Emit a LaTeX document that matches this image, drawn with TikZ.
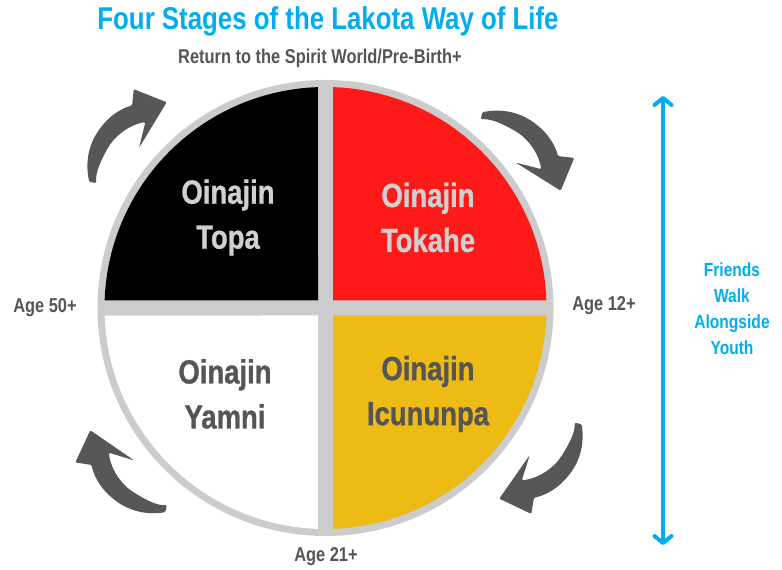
\documentclass[tikz,border=0pt]{standalone}
\usepackage{fontspec}
\setmainfont{Liberation Sans}
\newfontfamily\cond{Liberation Sans}[FakeStretch=0.82]
\newfontfamily\condheavy{Liberation Sans}[FakeStretch=0.82, BoldFeatures={FakeBold=0.8}]
\usetikzlibrary{arrows.meta,calc}
\definecolor{lblue}{HTML}{00AEEF}
\definecolor{ringgray}{HTML}{CCCCCC}
\definecolor{dgray}{HTML}{555555}
\definecolor{lgray}{HTML}{D0D0D0}
\definecolor{qred}{HTML}{FF1A1A}
\definecolor{qyellow}{HTML}{EDBB14}
\definecolor{agray}{HTML}{575757}
\begin{document}
\begin{tikzpicture}[x=1pt,y=1pt,
  lbl/.style={font=\cond\bfseries\fontsize{20}{22}\selectfont, text=dgray, anchor=base, inner sep=0pt},
  blbl/.style={font=\cond\bfseries\fontsize{19}{22}\selectfont, text=lblue, anchor=base, inner sep=0pt},
  quadtxt/.style={font=\condheavy\bfseries\fontsize{33.5}{45}\selectfont, align=center, inner sep=0pt},
  pics/curarrow/.style={code={
    \fill[agray, rounded corners=1.2pt] (-110,2) .. controls (-101,15) and (-86,29) .. (-60,31)
      .. controls (-45,32) and (-33,28) .. (-25,23) -- (-12,33) -- (1,0) -- (-51,-11) -- (-28,2)
      .. controls (-41,12) and (-60,15) .. (-75,11)
      .. controls (-90,7) and (-100,3) .. (-106,-4) -- cycle;
  }}
]
\useasboundingbox (0,0) rectangle (782,570);
\coordinate (C) at (325.5,262);
% ring and cross
\fill[ringgray] (C) circle (228);
% quadrants
\fill[black]  ($(C)+(-7.5,7.5)$) -- ($(C)+(91.95:221)$) arc[start angle=91.95, end angle=178.05, radius=221] -- cycle;
\fill[qred]   ($(C)+(7.5,7.5)$) -- ($(C)+(1.95:221)$) arc[start angle=1.95, end angle=88.05, radius=221] -- cycle;
\fill[white]  ($(C)+(-7.5,-7.5)$) -- ($(C)+(181.95:221)$) arc[start angle=181.95, end angle=268.05, radius=221] -- cycle;
\fill[qyellow] ($(C)+(7.5,-7.5)$) -- ($(C)+(271.95:221)$) arc[start angle=271.95, end angle=358.05, radius=221] -- cycle;
% quadrant texts
\node[quadtxt, text=lgray] (topa) at (228,352.5) {Oinajin\\Topa};
\node[quadtxt, text=lgray] (tokahe) at (428,352.5) {Oinajin\\Tokahe};
\node[quadtxt, text=dgray] (yamni) at (225,176) {Oinajin\\Yamni};
\node[quadtxt, text=dgray] (icununpa) at (428,176) {Oinajin\\Icununpa};
% title and labels
\node[font=\cond\bfseries\fontsize{31.5}{34}\selectfont, text=lblue, anchor=base, inner sep=0pt] (title) at (328,540) {Four Stages of the Lakota Way of Life};
\node[lbl] (spirit) at (320,506) {Return to the Spirit World/Pre-Birth+};
\node[lbl] (a50) at (45,257) {Age 50+};
\node[lbl] (a12) at (604,259) {Age 12+};
\node[lbl] (a21) at (326,8) {Age 21+};
% curved arrows
\pic[rotate=46.8] at (166,467) {curarrow};
\pic[rotate=-43.9] at (560,380) {curarrow};
\pic[rotate=-136.9] at (500,72) {curarrow};
\pic[rotate=133.5] at (91,139) {curarrow};
% blue arrow
\coordinate (btop) at (663,474);
\coordinate (bbot) at (663,25);
\draw[lblue, line width=4pt, {Straight Barb[round,length=7pt,width=17pt]}-{Straight Barb[round,length=7pt,width=17pt]}] (btop) -- (bbot);
\node[blbl] (f1) at (732,293) {Friends};
\node[blbl] (f2) at (732,267) {Walk};
\node[blbl] (f3) at (732,241) {Alongside};
\node[blbl] (f4) at (732,215) {Youth};
\end{tikzpicture}
\end{document}
